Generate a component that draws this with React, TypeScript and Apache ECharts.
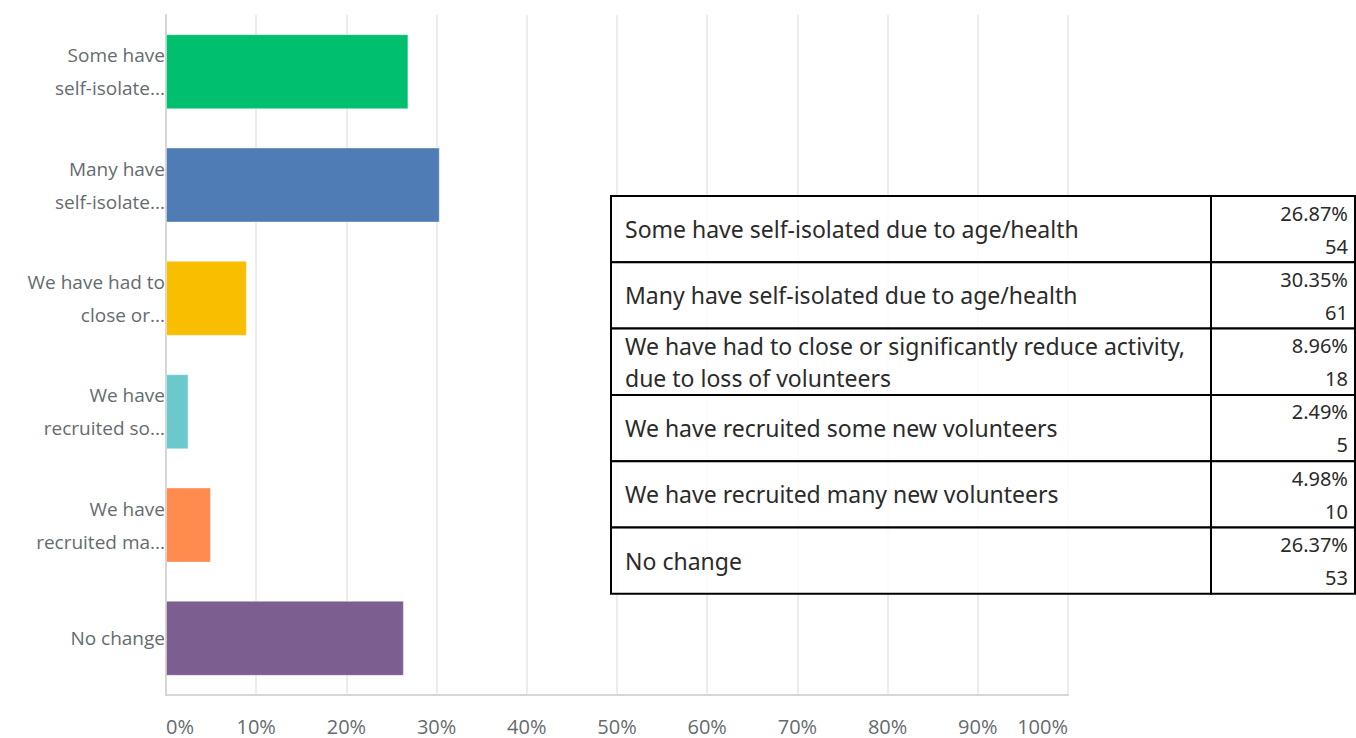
import React, { useEffect, useRef } from "react";
import * as echarts from "echarts";

const categories = [
  "Some have self-isolated due to age/health",
  "Many have self-isolated due to age/health",
  "We have had to close or significantly reduce activity, due to loss of volunteers",
  "We have recruited some new volunteers",
  "We have recruited many new volunteers",
  "No change",
];
const axisLabels = [
  "Some have\nself-isolate...",
  "Many have\nself-isolate...",
  "We have had to\nclose or...",
  "We have\nrecruited so...",
  "We have\nrecruited ma...",
  "No change",
];
const tableLabels = [
  "Some have self-isolated due to age/health",
  "Many have self-isolated due to age/health",
  "We have had to close or significantly reduce activity,\ndue to loss of volunteers",
  "We have recruited some new volunteers",
  "We have recruited many new volunteers",
  "No change",
];
const percents = [26.87, 30.35, 8.96, 2.49, 4.98, 26.37];
const percentLabels = ["26.87%", "30.35%", "8.96%", "2.49%", "4.98%", "26.37%"];
const counts = [54, 61, 18, 5, 10, 53];
const colors = ["#00BF6F", "#507CB6", "#F9BE00", "#6BC8CD", "#FF8B4F", "#7D5E90"];

export default function App() {
  const ref = useRef<HTMLDivElement>(null);
  useEffect(() => {
    if (!ref.current) return;
    const chart = echarts.init(ref.current, undefined, { renderer: "svg" });

    const tX = 611, tDiv = 1211, tR = 1355, tTop = 196, rowH = 66.3;
    const leftFont = '23px "Noto Sans", "Open Sans", sans-serif';
    const rightFont = '20px "Noto Sans", "Open Sans", sans-serif';
    const tableEls: any[] = [];
    tableLabels.forEach((lab, i) => {
      const y0 = tTop + i * rowH;
      tableEls.push({
        type: "rect",
        z: 100,
        shape: { x: tX, y: y0, width: tDiv - tX, height: rowH },
        style: { fill: "rgba(255,255,255,0.85)", stroke: "#000", lineWidth: 2 },
      });
      tableEls.push({
        type: "rect",
        z: 100,
        shape: { x: tDiv, y: y0, width: tR - tDiv, height: rowH },
        style: { fill: "rgba(255,255,255,0.85)", stroke: "#000", lineWidth: 2 },
      });
      tableEls.push({
        type: "text",
        z: 101,
        style: {
          text: lab,
          x: tX + 14,
          y: y0 + rowH / 2,
          font: leftFont,
          fill: "#2b2b2b",
          textAlign: "left",
          textVerticalAlign: "middle",
          lineHeight: 32,
        },
      });
      tableEls.push({
        type: "text",
        z: 101,
        style: {
          text: percentLabels[i],
          x: tR - 7,
          y: y0 + 17,
          font: rightFont,
          fill: "#2b2b2b",
          textAlign: "right",
          textVerticalAlign: "middle",
        },
      });
      tableEls.push({
        type: "text",
        z: 101,
        style: {
          text: String(counts[i]),
          x: tR - 7,
          y: y0 + 50,
          font: rightFont,
          fill: "#2b2b2b",
          textAlign: "right",
          textVerticalAlign: "middle",
        },
      });
    });

    chart.setOption({
      animation: false,
      grid: { left: 166, right: 288, top: 15, bottom: 43, containLabel: false },
      xAxis: {
        type: "value",
        min: 0,
        max: 100,
        interval: 10,
        axisLine: { show: true, lineStyle: { color: "#d6d6d6", width: 2 } },
        axisTick: { show: false },
        splitLine: { show: true, lineStyle: { color: "#ececec", width: 2 } },
        axisLabel: {
          formatter: "{value}%",
          color: "#666b70",
          fontFamily: "Open Sans",
          fontSize: 20,
          margin: 21,
          alignMinLabel: "left",
          alignMaxLabel: "right",
        },
      },
      yAxis: {
        type: "category",
        inverse: true,
        data: categories,
        axisLine: { show: true, lineStyle: { color: "#d6d6d6", width: 2 } },
        axisTick: { show: false },
        axisLabel: {
          formatter: (_v: string, idx: number) => axisLabels[idx],
          color: "#666b70",
          fontFamily: "Open Sans",
          fontSize: 19,
          lineHeight: 33,
          margin: 1,
        },
      },
      series: [
        {
          type: "bar",
          barWidth: 75,
          data: percents.map((v, i) => ({
            value: v,
            itemStyle: {
              color: colors[i],
              borderColor: "rgba(255,255,255,0.35)",
              borderWidth: 1,
            },
          })),
        },
      ],
      graphic: [{ type: "group", children: tableEls }],
    });
    return () => chart.dispose();
  }, []);
  return (
    <div
      ref={ref}
      style={{ position: "fixed", left: 0, top: 0, width: 1356, height: 738, background: "#fff" }}
    />
  );
}
